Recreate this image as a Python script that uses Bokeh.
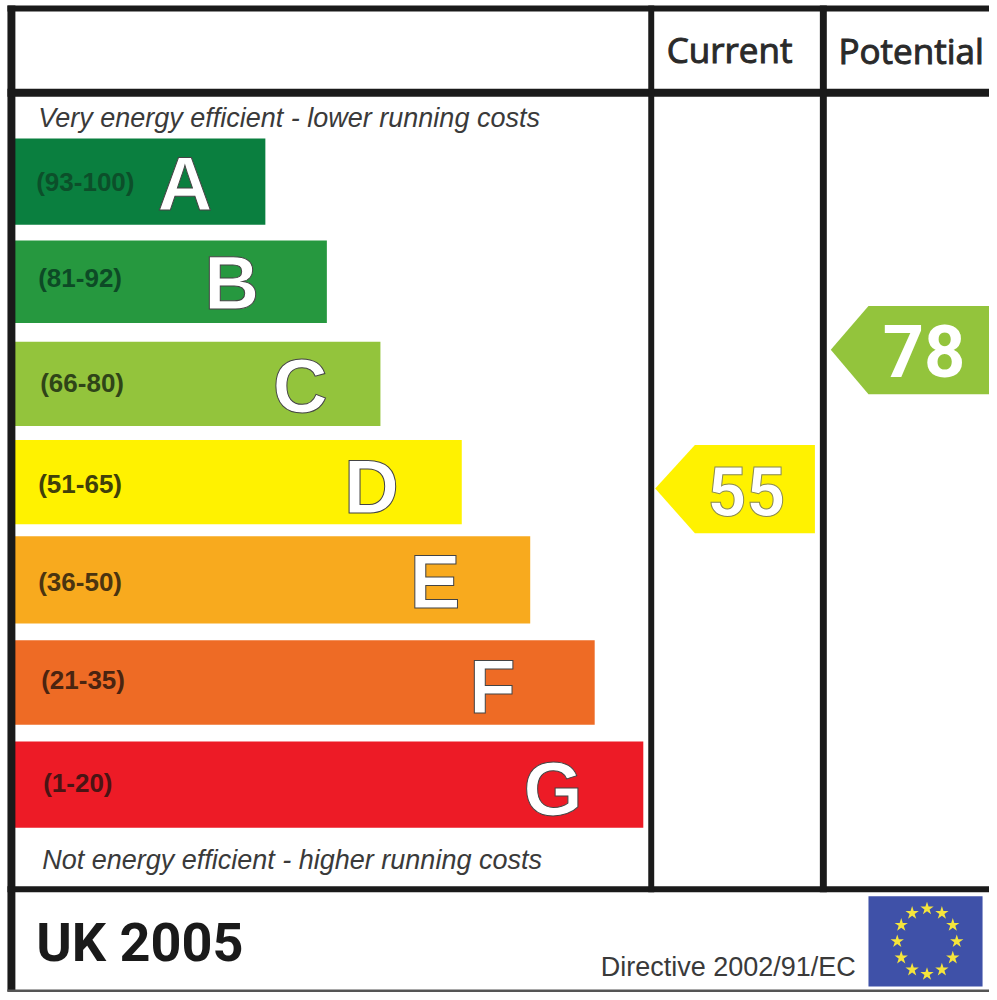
from math import cos, sin, pi
from bokeh.plotting import figure
from bokeh.models import ColumnDataSource, Range1d
from bokeh.core.properties import value
from bokeh.embed import file_html
from bokeh.resources import INLINE

# chart content
grades = ["A", "B", "C", "D", "E", "F", "G"]
ranges = ["(93-100)", "(81-92)", "(66-80)", "(51-65)", "(36-50)", "(21-35)", "(1-20)"]
grade_colors = ["#0a7f3f", "#26983f", "#93c43c", "#fff200", "#f8aa1e", "#ee6b25", "#ed1b26"]
range_colors = ["#0c4f2a", "#0d4a26", "#2f4418", "#40400a", "#4a3410", "#4a2410", "#4a1414"]
current_score = "55"
potential_score = "78"
headers = ["Current", "Potential"]
top_note = "Very energy efficient - lower running costs"
bottom_note = "Not energy efficient - higher running costs"
country = "UK 2005"
directive = "Directive 2002/91/EC"

# layout (pixel space of the label)
bar_left = 14
bar_right = [267, 329, 383, 465, 534, 599, 648]
bar_top = [139, 242, 344, 443, 540, 645, 747]
bar_bottom = [226, 325, 429, 528, 628, 730, 834]
range_x = [36, 38, 40, 38, 38, 41, 43]
range_y = [183, 280, 386, 487, 586, 685, 789]
letter_x = [186, 233, 302, 374, 438, 496, 557]
letter_y = [184, 284, 388, 490, 586, 692, 794]

INK = "#1a1a1a"
p = figure(width=989, height=992, x_range=Range1d(0, 997), y_range=Range1d(1000, 0),
           toolbar_location=None, output_backend="svg", min_border=0,
           outline_line_color=None, background_fill_color="#ffffff")
p.axis.visible = False
p.grid.visible = False

# bars
p.quad(left=[bar_left] * 7, right=bar_right, top=bar_top, bottom=bar_bottom,
       fill_color=grade_colors, line_color=None)

# frame
frame_l = [7, 7, 7, 7, 653, 826]
frame_r = [15, 997, 997, 997, 659, 833]
frame_t = [5, 5, 89, 893, 5, 5]
frame_b = [999, 11, 97, 899, 899, 899]
p.quad(left=frame_l, right=frame_r, top=frame_t, bottom=frame_b, fill_color=INK, line_color=None)
p.quad(left=[7], right=[997], top=[997], bottom=[1000], fill_color="#555555", line_color=None)

# range labels
src = ColumnDataSource(dict(x=range_x, y=range_y, t=ranges, c=range_colors))
p.text("x", "y", text="t", source=src, text_color="c", text_font=value("Liberation Sans"),
       text_font_style="bold", text_font_size="26px", text_baseline="middle", text_align="left")

# letters
src = ColumnDataSource(dict(x=letter_x, y=letter_y, t=grades))
p.text("x", "y", text="t", source=src, text_color="#ffffff", text_font=value("Liberation Sans"),
       text_font_style="bold", text_font_size="76px", text_baseline="middle", text_align="center",
       text_outline_color="#444444")

# arrows
p.patch([837, 875, 997, 997, 875], [352, 308, 308, 397, 397], fill_color="#93c43c", line_color=None)
p.patch([660, 700, 821, 821, 700], [492, 448, 448, 537, 537], fill_color="#fff200", line_color=None)
p.text([931], [353], text=[potential_score], text_color="#ffffff", text_font=value("Roboto"),
       text_font_style="bold", text_font_size="72px", text_baseline="middle", text_align="center")
p.text([752], [495], text=[current_score], text_color="#ffffff", text_font=value("Roboto"),
       text_font_style="bold", text_font_size="68px", text_baseline="middle", text_align="center",
       text_outline_color="#8a8a50")

# headers
p.text([735, 918], [49, 50], text=headers, text_color="#2a2a2a", text_font=value("Open Sans"),
       text_font_size="35px", text_baseline="middle", text_align="center",
       text_outline_color="#2a2a2a")

# notes
p.text([38, 42], [118, 866], text=[top_note, bottom_note], text_color="#3a3a3a",
       text_font=value("Liberation Sans"), text_font_style="italic", text_font_size="27px",
       text_baseline="middle", text_align="left")

# footer
p.text([36], [950], text=[country], text_color=INK, text_font=value("Roboto"),
       text_font_style="bold", text_font_size="54px", text_baseline="middle", text_align="left")
p.text([605], [974], text=[directive], text_color="#3a3a3a", text_font=value("Liberation Sans"),
       text_font_size="27px", text_baseline="middle", text_align="left")

# flag
p.quad(left=[875], right=[990], top=[903], bottom=[994], fill_color="#3f51a8", line_color=None)
star_angles = [i * pi / 6 for i in range(12)]
p.scatter([934 + 30 * sin(a) for a in star_angles], [948.5 - 33 * cos(a) for a in star_angles],
          marker="star", size=14, fill_color="#f5e53c", line_color=None)

open("out.html", "w").write(file_html(p, INLINE))
